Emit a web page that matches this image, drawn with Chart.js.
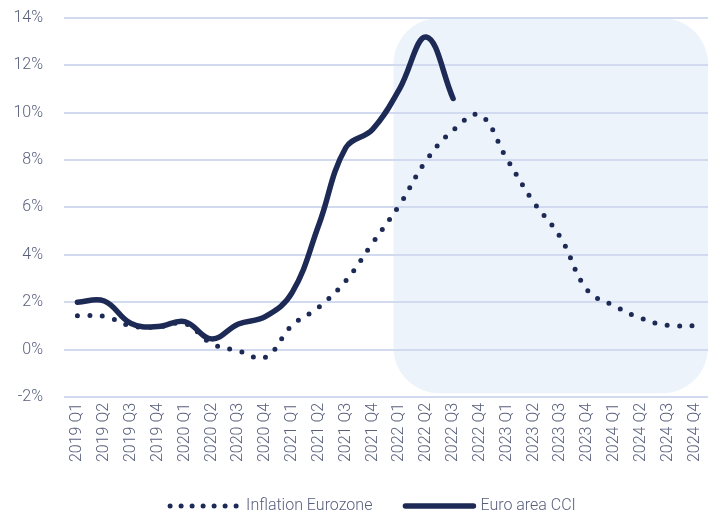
<!DOCTYPE html>
<html>
<head>
<meta charset="utf-8">
<script src="https://cdn.jsdelivr.net/npm/chart.js@4/dist/chart.umd.min.js"></script>
<style>
  html, body { margin: 0; padding: 0; background: #ffffff; }
  #wrap { width: 708px; height: 515px; position: relative; }
</style>
</head>
<body>
<div id="wrap"><canvas id="c" width="708" height="515"></canvas></div>
<script>
const categories = ['2019 Q1','2019 Q2','2019 Q3','2019 Q4','2020 Q1','2020 Q2','2020 Q3','2020 Q4',
  '2021 Q1','2021 Q2','2021 Q3','2021 Q4','2022 Q1','2022 Q2','2022 Q3','2022 Q4',
  '2023 Q1','2023 Q2','2023 Q3','2023 Q4','2024 Q1','2024 Q2','2024 Q3','2024 Q4'];
const inflationEurozone = [1.43, 1.4, 1.0, 0.95, 1.1, 0.25, -0.06, -0.33, 1.02, 1.79, 2.9, 4.5,
  6.1, 7.98, 9.26, 9.9, 8.06, 6.23, 4.74, 2.51, 1.85, 1.32, 1.02, 1.0];
const euroAreaCCI = [2.0, 2.05, 1.1, 0.97, 1.18, 0.45, 1.08, 1.39, 2.4, 5.28, 8.52, 9.3,
  11.0, 13.2, 10.6, null, null, null, null, null, null, null, null, null];
const yTicks = [-2, 0, 2, 4, 6, 8, 10, 12, 14];
const seriesNames = ['Inflation Eurozone', 'Euro area CCI'];
const forecastStartIndex = 11.78;
const forecastBottomValue = -1.85;

const NAVY = '#1d2a56';
const TEXT = '#59607c';
const GRID = '#d2daf0';
const FONT = "'Roboto', sans-serif";
const LEGEND_BOX = 70;

const shadePlugin = {
  id: 'shade',
  afterLayout(chart) {
    if (chart.legend) chart.legend.left = 36;
  },
  beforeDraw(chart) {
    const {ctx, scales} = chart;
    const x0 = scales.x.getPixelForValue(forecastStartIndex);
    const x1 = chart.width;
    const y0 = scales.y.getPixelForValue(yTicks[yTicks.length - 1]);
    const y1 = scales.y.getPixelForValue(forecastBottomValue);
    ctx.save();
    ctx.fillStyle = '#ecf3fa';
    ctx.beginPath();
    ctx.roundRect(x0, y0, x1 - x0, y1 - y0, 46);
    ctx.fill();
    ctx.restore();
  }
};

const legendLinePlugin = {
  id: 'legendLines',
  afterDraw(chart) {
    const legend = chart.legend;
    if (!legend || !legend.legendHitBoxes) return;
    const {ctx} = chart;
    legend.legendHitBoxes.forEach((box, i) => {
      const ds = chart.data.datasets[i];
      const y = box.top + box.height / 2;
      ctx.save();
      ctx.strokeStyle = ds.borderColor;
      ctx.lineWidth = ds.borderWidth;
      ctx.lineCap = 'round';
      if (ds.borderDash) {
        ctx.setLineDash([0, 11]);
        ctx.beginPath();
        ctx.moveTo(box.left + 2, y);
        ctx.lineTo(box.left + 69, y);
      } else {
        ctx.setLineDash([]);
        ctx.beginPath();
        ctx.moveTo(box.left + 3, y);
        ctx.lineTo(box.left + 71, y);
      }
      ctx.stroke();
      ctx.restore();
    });
  }
};

new Chart(document.getElementById('c'), {
  type: 'line',
  data: {
    labels: categories,
    datasets: [
      {
        label: seriesNames[0],
        data: inflationEurozone,
        borderColor: NAVY,
        backgroundColor: NAVY,
        borderWidth: 5,
        borderDash: [0, 12.5],
        borderCapStyle: 'round',
        tension: 0.4,
        pointRadius: 0,
        fill: false
      },
      {
        label: seriesNames[1],
        data: euroAreaCCI,
        borderColor: NAVY,
        backgroundColor: NAVY,
        borderWidth: 5.5,
        borderCapStyle: 'round',
        borderJoinStyle: 'round',
        tension: 0.4,
        pointRadius: 0,
        fill: false
      }
    ]
  },
  options: {
    responsive: false,
    animation: false,
    layout: { padding: { left: 0, right: 0, top: 18, bottom: -9 } },
    plugins: {
      legend: {
        position: 'bottom',
        labels: {
          usePointStyle: true,
          pointStyle: 'line',
          pointStyleWidth: LEGEND_BOX,
          boxHeight: 16,
          padding: 30,
          color: TEXT,
          font: { family: FONT, size: 16, weight: 300 },
          generateLabels(chart) {
            const items = Chart.defaults.plugins.legend.labels.generateLabels(chart);
            items.forEach(it => { it.strokeStyle = 'rgba(0,0,0,0)'; it.lineWidth = 0; });
            return items;
          }
        }
      },
      tooltip: { enabled: false }
    },
    scales: {
      x: {
        offset: true,
        afterFit(scale) { scale.paddingRight = 0; scale.paddingLeft = 0; },
        grid: { display: false, drawTicks: false },
        border: { display: false },
        ticks: {
          minRotation: 90, maxRotation: 90, autoSkip: false,
          padding: 6,
          color: TEXT,
          font: { family: FONT, size: 16, weight: 300 }
        }
      },
      y: {
        min: -2, max: 14,
        afterBuildTicks(scale) { scale.ticks = yTicks.map(v => ({ value: v })); },
        afterFit(scale) { scale.width = 64; scale.paddingTop = 0; scale.paddingBottom = 0; },
        grid: { color: GRID, lineWidth: 2, drawTicks: false },
        border: { display: false },
        ticks: {
          padding: 21,
          color: TEXT,
          font: { family: FONT, size: 16, weight: 300 },
          callback: v => v + '%'
        }
      }
    }
  },
  plugins: [shadePlugin, legendLinePlugin]
});
</script>
</body>
</html>
